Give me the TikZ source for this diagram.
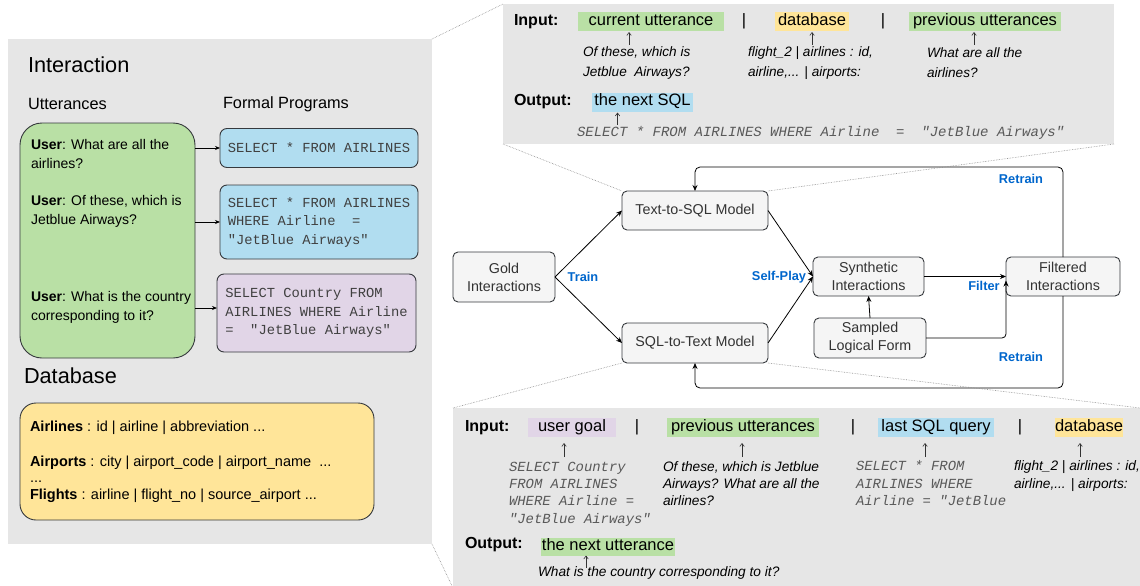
\documentclass[tikz,border=0pt]{standalone}
\usepackage{fontspec}
\setmainfont{Liberation Sans}
\setmonofont{Liberation Mono}
\usetikzlibrary{arrows.meta,calc}

\definecolor{panelgray}{HTML}{E6E6E6}
\definecolor{nodefill}{HTML}{F5F5F5}
\definecolor{uttgreen}{HTML}{B9E0A5}
\definecolor{progblue}{HTML}{B1DDF0}
\definecolor{goalpurple}{HTML}{E1D5E7}
\definecolor{dbyellow}{HTML}{FFE599}
\definecolor{tagblue}{HTML}{0066CC}
\definecolor{edgedark}{HTML}{36393D}

\newcommand{\fsz}[2]{\fontsize{#1}{#2}\selectfont}

\begin{document}
\begin{tikzpicture}[x=1pt, y=-1pt,
  every node/.style={inner sep=0pt, outer sep=0pt},
  panel/.style={fill=panelgray, draw=none, rectangle},
  zoomline/.style={draw=black!45, densely dotted, line width=0.6pt},
  ttl/.style={font=\fsz{21.7}{26}, anchor=west},
  subttl/.style={font=\fsz{16.3}{20}, anchor=west},
  utext/.style={font=\fsz{14}{19}, anchor=west, align=left},
  uttbox/.style={draw=edgedark, fill=uttgreen, line width=0.9pt, rounded corners=22pt},
  sqlbox/.style={draw=edgedark, line width=0.9pt, rounded corners=7pt, align=left,
    text=black!75, font=\ttfamily\fsz{13.8}{18.5}},
  dbbox/.style={draw=edgedark, fill=dbyellow, line width=0.9pt, rounded corners=16pt},
  dbline/.style={font=\fsz{14.5}{18}, anchor=west},
  flow/.style={draw=edgedark, fill=nodefill, rounded corners=5pt, line width=0.9pt,
    text=black!80, font=\fsz{14.3}{18}, align=center},
  arr/.style={-{Stealth[length=6pt,width=5pt]}, line width=0.8pt, draw=black},
  larr/.style={-{Stealth[length=5pt,width=4pt]}, line width=0.8pt, draw=black},
  tag/.style={text=tagblue, font=\bfseries\fsz{12.8}{15}},
  hl/.style={font=\fsz{16.5}{20}, text height=0.72em, text depth=0pt, minimum height=19pt},
  ioname/.style={font=\bfseries\fsz{16}{20}, anchor=west, text height=0.72em, text depth=0pt},
  barsep/.style={font=\fsz{16.5}{20}, text height=0.72em, text depth=0pt},
  example/.style={font=\itshape\fsz{13.6}{20}, anchor=west, align=left},
  sqlex/.style={font=\ttfamily\itshape\fsz{13.9}{17.3}, text=black!65, anchor=west, align=left},
  pointer/.style={-{Straight Barb[length=3pt,width=4.5pt]}, line width=0.6pt, draw=black!80}
]
\useasboundingbox (0,0) rectangle (1140,586);

% ---------- background panels ----------
\node[panel, minimum width=424pt, minimum height=505pt] (lp) at (220,291.5) {};
\node[panel, minimum width=611pt, minimum height=140pt] (tp) at (808.5,74) {};
\node[panel, minimum width=687pt, minimum height=180pt] (bp) at (796.5,498) {};

% ---------- interaction and database ----------
\node[ttl] (tint) at (28,65) {Interaction};
\node[subttl] (tutt) at (28,104) {Utterances};
\node[subttl] (tfp) at (223,104) {Formal Programs};

\node[uttbox, minimum width=175pt, minimum height=235pt] (utt) at (107.5,240.5) {};
\node[utext] (u1) at (31,153.5) {\textbf{User}: What are all the\\airlines?};
\node[utext] (u2) at (31,211.5) {\textbf{User}: Of these, which is\\Jetblue Airways?};
\node[utext] (u3) at (31,307.5) {\textbf{User}: What is the country\\corresponding to it?};

\node[sqlbox, fill=progblue, minimum width=198pt, minimum height=39pt] (p1) at (319,148)
  {SELECT * FROM AIRLINES};
\node[sqlbox, fill=progblue, minimum width=198pt, minimum height=74pt] (p2) at (319,222)
  {SELECT * FROM AIRLINES\\WHERE Airline~~=\\"JetBlue Airways"};
\node[sqlbox, fill=goalpurple, minimum width=199pt, minimum height=78pt] (p3) at (316.5,313)
  {SELECT Country FROM\\AIRLINES WHERE Airline\\=~~"JetBlue Airways"};

\draw[larr] (utt.east |- p1.west) -- (p1.west);
\draw[larr] (utt.east |- p2.west) -- (p2.west);
\draw[larr] ($(utt.east |- p3.west)+(0,-5)$) -- ($(p3.west)+(0,-5)$);

\node[ttl] (tdb) at (24,376) {Database};
\node[dbbox, minimum width=354pt, minimum height=117pt] (db) at (197,461.5) {};
\node[dbline] (d1) at (30,428) {\textbf{Airlines} : id | airline | abbreviation ...};
\node[dbline] (d2) at (30,463) {\textbf{Airports} : city | airport\_code | airport\_name~~...};
\node[dbline] (d3) at (30,482) {...};
\node[dbline] (d4) at (30,496) {\textbf{Flights} : airline | flight\_no | source\_airport ...};

% ---------- self-play loop ----------
\node[flow, minimum width=102pt, minimum height=50pt] (gold) at (504,277) {Gold\\Interactions};
\node[flow, minimum width=146pt, minimum height=39pt] (t2s) at (695,210.5) {Text-to-SQL Model};
\node[flow, minimum width=146pt, minimum height=40pt] (s2t) at (695,343) {SQL-to-Text Model};
\node[flow, minimum width=111pt, minimum height=39pt] (syn) at (868.5,276.5) {Synthetic\\Interactions};
\node[flow, minimum width=112pt, minimum height=40pt] (sam) at (870,338) {Sampled\\Logical Form};
\node[flow, minimum width=114pt, minimum height=39pt] (fil) at (1063,276.5) {Filtered\\Interactions};

\draw[arr] (gold.east) -- (t2s.west);
\draw[arr] (gold.east) -- (s2t.west);
\draw[arr] (t2s.east) -- (syn.west);
\draw[arr] (s2t.east) -- (syn.west);
\draw[arr] (syn.east) -- (fil.west);
\draw[arr] (sam.north) -- (syn.south);
\draw[arr, rounded corners=4pt] (sam.east) -| ([yshift=-4pt]fil.west);
\draw[arr, rounded corners=5pt] (fil.north) -- ++(0,-90) -| (t2s.north);
\draw[arr, rounded corners=5pt] (fil.south) -- ++(0,92) -| (s2t.south);

\node[tag] (ltrain) at (583,277) {Train};
\node[tag] (lself) at (779,277) {Self-Play};
\node[tag] (lfilt) at (984,286) {Filter};
\node[tag] (lrt1) at (1021,179) {Retrain};
\node[tag] (lrt2) at (1021,357) {Retrain};

% ---------- text-to-SQL inputs and output ----------
\node[ioname] (tin) at (514,22) {Input:};
\node[hl, fill=uttgreen, minimum width=146pt] (cu) at (651,21.5) {current utterance};
\node[barsep] (tb1) at (744,21.5) {|};
\node[hl, fill=dbyellow, minimum width=74pt] (tdbh) at (812,21.5) {database};
\node[barsep] (tb2) at (883,21.5) {|};
\node[hl, fill=uttgreen, minimum width=152pt] (tpu) at (985,21.5) {previous utterances};

\node[example] (te1) at (583,63) {Of these, which is\\Jetblue~ Airways?};
\node[example] (te2) at (748,63) {flight\_2 | airlines : id,\\airline,... | airports:};
\node[example] (te3) at (927,63) {What are all the\\airlines?};

\draw[pointer] ([xshift=-22pt,yshift=-14pt]cu.south) -- ([xshift=-22pt,yshift=-1pt]cu.south);
\draw[pointer] ([yshift=-14pt]tdbh.south) -- ([yshift=-1pt]tdbh.south);
\draw[pointer] ([xshift=-11pt,yshift=-14pt]tpu.south) -- ([xshift=-11pt,yshift=-1pt]tpu.south);

\node[ioname] (tout) at (514,102) {Output:};
\node[hl, fill=progblue, minimum width=101pt] (ns) at (642.5,102) {the next SQL};
\draw[pointer] ([xshift=-25pt,yshift=-13pt]ns.south) -- ([xshift=-25pt,yshift=-1pt]ns.south);
\node[sqlex, font=\ttfamily\itshape\fsz{14}{17}] (tsql) at (577,133)
  {SELECT * FROM AIRLINES WHERE Airline~~=~~"JetBlue Airways"};

% ---------- SQL-to-text inputs and output ----------
\node[ioname] (bin) at (465,428) {Input:};
\node[hl, fill=goalpurple, minimum width=88pt] (ug) at (572,427.5) {user goal};
\node[barsep] (bb1) at (637,427.5) {|};
\node[hl, fill=uttgreen, minimum width=152pt] (bpu) at (743,427.5) {previous utterances};
\node[barsep] (bb2) at (853,427.5) {|};
\node[hl, fill=progblue, minimum width=116pt] (lq) at (936,427.5) {last SQL query};
\node[barsep] (bb3) at (1020,427.5) {|};
\node[hl, fill=dbyellow, minimum width=68pt] (bdbh) at (1089,427.5) {database};

\node[sqlex] (bq) at (509,494) {SELECT Country\\FROM AIRLINES\\WHERE Airline =\\"JetBlue Airways"};
\node[example, font=\itshape\fsz{13.7}{16.7}] (be) at (663,483.5)
  {Of these, which is Jetblue\\Airways? What are all the\\airlines?};
\node[sqlex] (bs) at (856,483.3) {SELECT * FROM\\AIRLINES WHERE\\Airline = "JetBlue};
\node[example, font=\itshape\fsz{13.7}{18}] (bd) at (1014,476)
  {flight\_2 | airlines : id,\\airline,... | airports:};

\draw[pointer] ([xshift=-8pt,yshift=-20pt]ug.south) -- ([xshift=-8pt,yshift=-6pt]ug.south);
\draw[pointer] ([xshift=-1pt,yshift=-20pt]bpu.south) -- ([xshift=-1pt,yshift=-6pt]bpu.south);
\draw[pointer] ([xshift=-11pt,yshift=-20pt]lq.south) -- ([xshift=-11pt,yshift=-6pt]lq.south);
\draw[pointer] ([xshift=-9pt,yshift=-20pt]bdbh.south) -- ([xshift=-9pt,yshift=-6pt]bdbh.south);

\node[ioname] (bout) at (465,545) {Output:};
\node[hl, fill=uttgreen, minimum width=134pt, minimum height=18pt] (nu) at (608,546.5) {the next utterance};
\draw[pointer] ([xshift=-22pt,yshift=-12pt]nu.south) -- ([xshift=-22pt]nu.south);
\node[example, font=\itshape\fsz{13.7}{17}] (bo) at (538,573) {What is the country corresponding to it?};

% ---------- dotted guide lines ----------
\draw[zoomline] (lp.north east) -- (tp.north west);
\draw[zoomline] (tp.south west) -- (t2s.north west);
\draw[zoomline] (tp.south east) -- (t2s.north east);
\draw[zoomline] (s2t.south west) -- (bp.north west);
\draw[zoomline] (s2t.south east) -- (bp.north east);
\draw[zoomline] (lp.south east) -- (bp.south west);
\end{tikzpicture}
\end{document}
